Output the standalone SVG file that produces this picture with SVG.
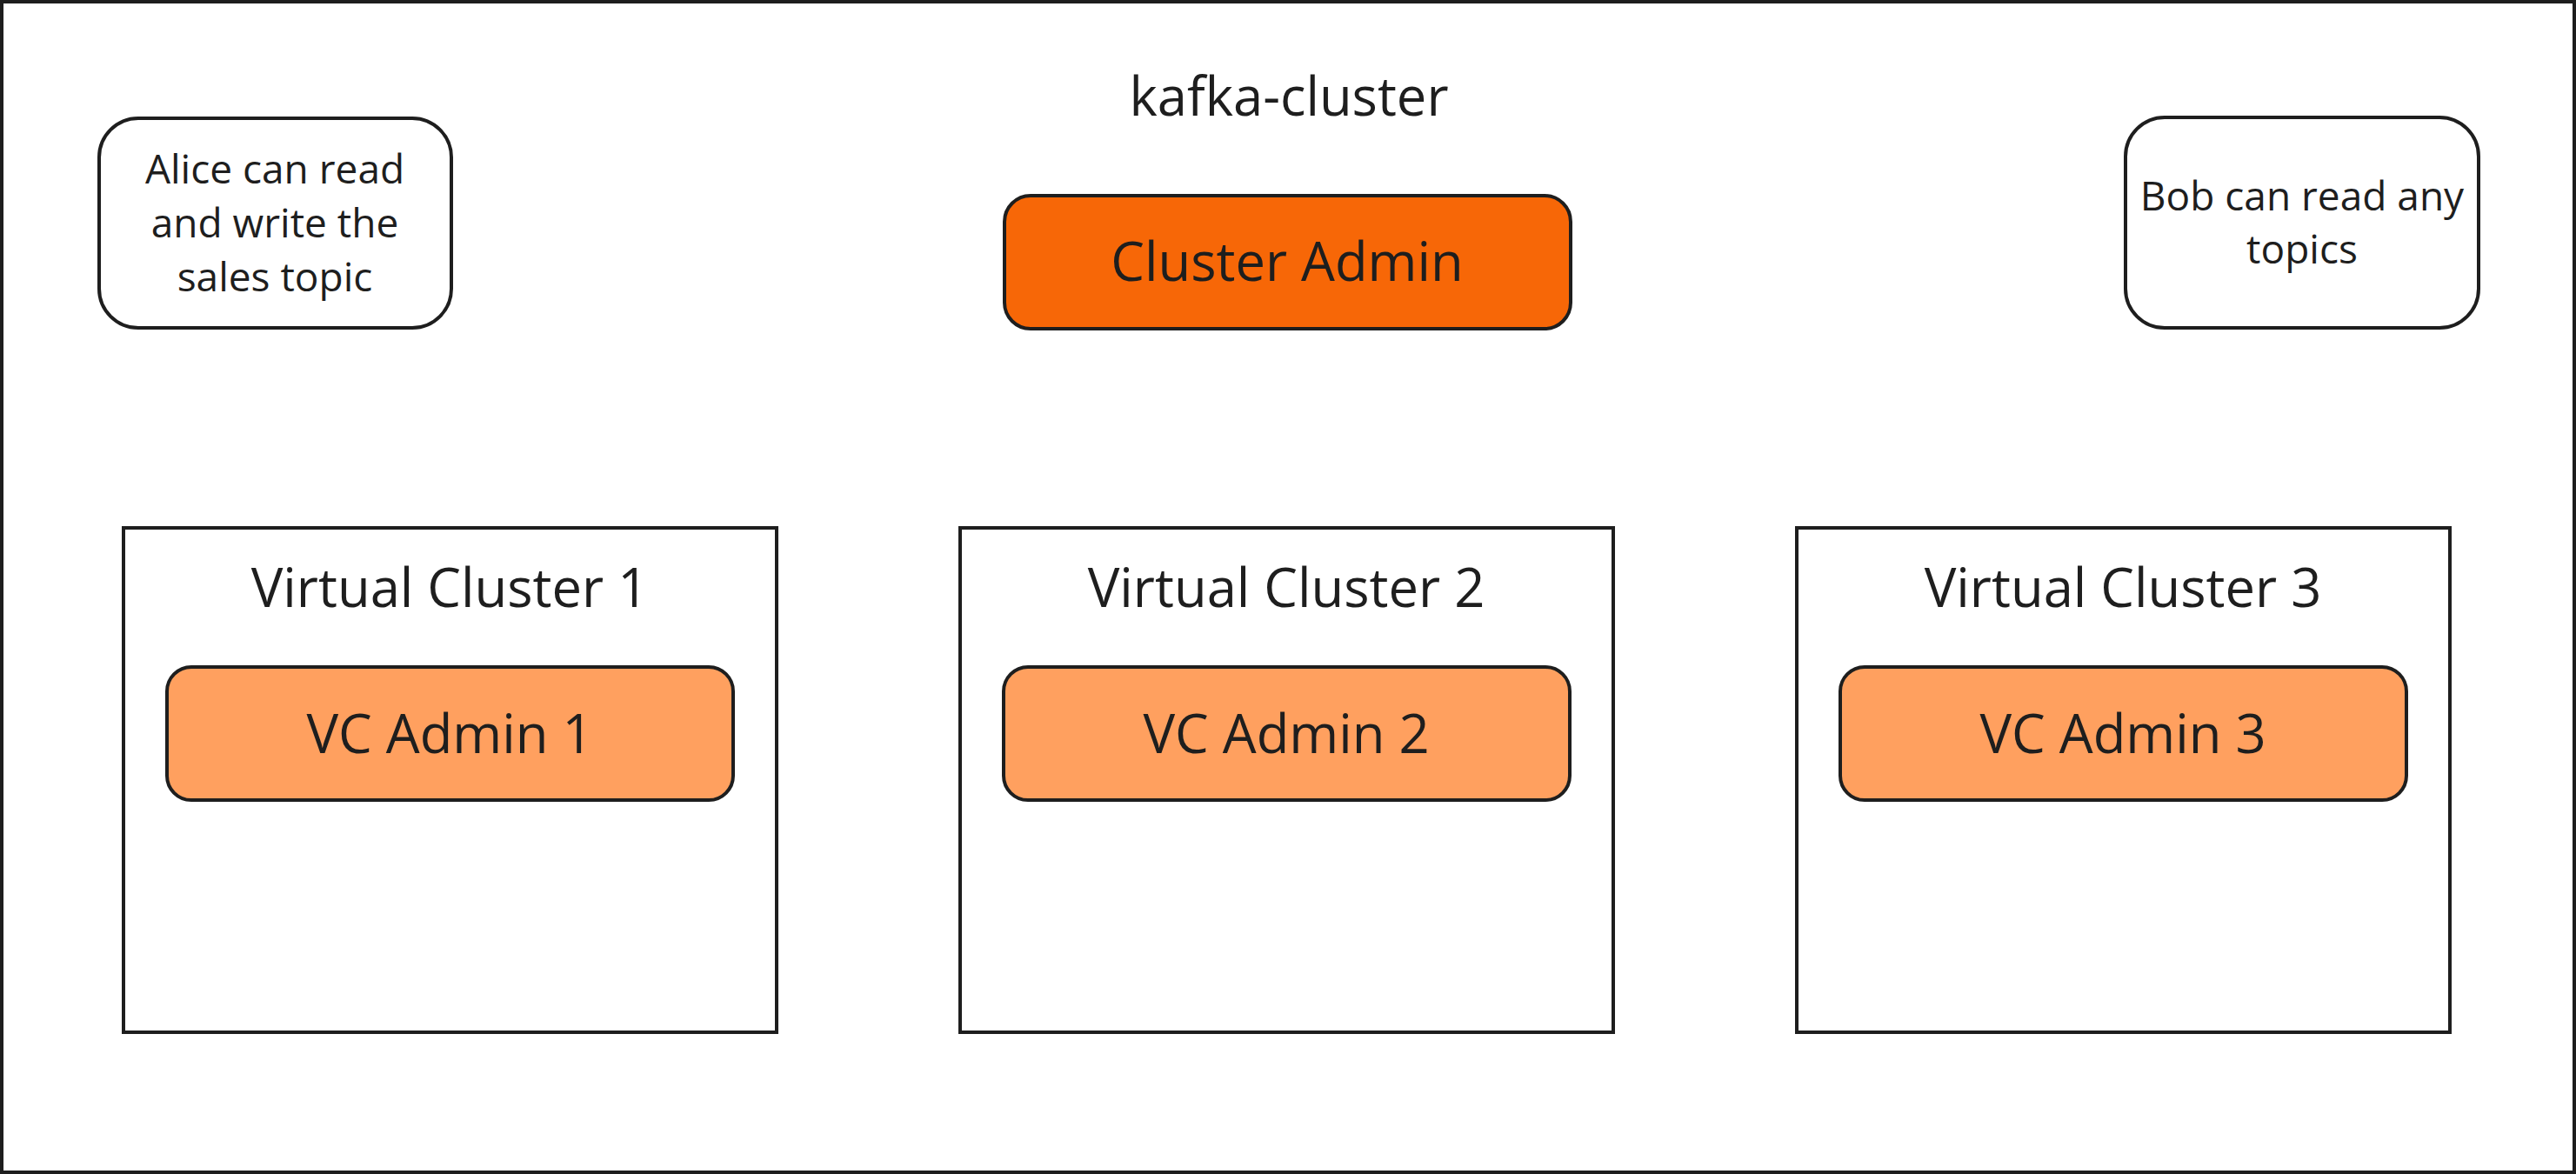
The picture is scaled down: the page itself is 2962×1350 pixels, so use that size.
<svg xmlns="http://www.w3.org/2000/svg" width="2962" height="1350" viewBox="0 0 2962 1350">
<style>
.frame{fill:#ffffff;stroke:#1e1e1e;stroke-width:4}
.box{fill:#ffffff;stroke:#1e1e1e;stroke-width:4}
.note{fill:#ffffff;stroke:#1e1e1e;stroke-width:4}
.admin{fill:#f76707;stroke:#1e1e1e;stroke-width:4}
.vcadmin{fill:#ffa05f;stroke:#1e1e1e;stroke-width:4}
text{font-family:"Open Sans","Noto Sans","Liberation Sans",sans-serif;fill:#1e1e1e;text-anchor:middle}
.big{font-size:61.5px}
.small{font-size:46px}
</style>
<g id="kafka-cluster">
<rect class="frame" x="2" y="2" width="2958" height="1346"/>
<text class="big" x="1482" y="133">kafka-cluster</text>
</g>
<g id="alice-note">
<rect class="note" x="114" y="136" width="405" height="241" rx="45" ry="45"/>
<text class="small" x="316" y="211">Alice can read</text>
<text class="small" x="316" y="273">and write the</text>
<text class="small" x="316" y="335">sales topic</text>
</g>
<g id="bob-note">
<rect class="note" x="2444" y="135" width="406" height="242" rx="45" ry="45"/>
<text class="small" x="2647" y="242">Bob can read any</text>
<text class="small" x="2647" y="303">topics</text>
</g>
<g id="cluster-admin">
<rect class="admin" x="1155" y="225" width="651" height="153" rx="30" ry="30"/>
<text class="big" x="1480" y="323">Cluster Admin</text>
</g>
<g id="virtual-cluster-1">
<rect class="box" x="142" y="607" width="751" height="580"/>
<text class="big" x="517" y="698">Virtual Cluster 1</text>
</g>
<g id="vc-admin-1">
<rect class="vcadmin" x="192" y="767" width="651" height="153" rx="28" ry="28"/>
<text class="big" x="517" y="866">VC Admin 1</text>
</g>
<g id="virtual-cluster-2">
<rect class="box" x="1104" y="607" width="751" height="580"/>
<text class="big" x="1479" y="698">Virtual Cluster 2</text>
</g>
<g id="vc-admin-2">
<rect class="vcadmin" x="1154" y="767" width="651" height="153" rx="28" ry="28"/>
<text class="big" x="1479" y="866">VC Admin 2</text>
</g>
<g id="virtual-cluster-3">
<rect class="box" x="2066" y="607" width="751" height="580"/>
<text class="big" x="2441" y="698">Virtual Cluster 3</text>
</g>
<g id="vc-admin-3">
<rect class="vcadmin" x="2116" y="767" width="651" height="153" rx="28" ry="28"/>
<text class="big" x="2441" y="866">VC Admin 3</text>
</g>
<g id="connectors"/>
</svg>
